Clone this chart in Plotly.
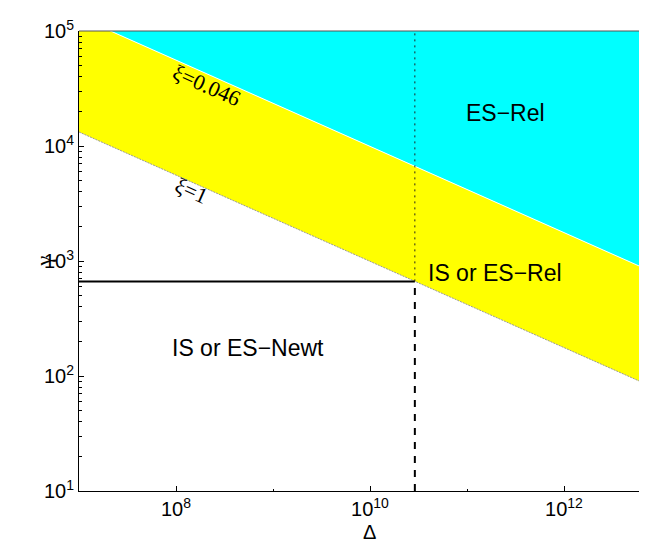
import plotly.graph_objects as go

# ---- data ----
delta_edges = [1e7, 1e13]            # Δ span of the boundary lines
gamma_xi1 = [1.324e4, 74.5]          # ξ = 1 boundary at the Δ edges
gamma_xi0046 = [1.324e5, 745.0]      # ξ = 0.046 boundary at the Δ edges
gamma_limits = [10, 1e5]
delta_crit = 2.9e10
gamma_crit = 665.0

x_tick_vals = [1e8, 1e10, 1e12]
x_tick_text = ["10<sup>8</sup>", "10<sup>10</sup>", "10<sup>12</sup>"]
x_minor_vals = [1e7, 1e9, 1e11, 1e13]
y_tick_vals = [1e1, 1e2, 1e3, 1e4, 1e5]
y_tick_text = ["10<sup>1</sup>", "10<sup>2</sup>", "10<sup>3</sup>", "10<sup>4</sup>", "10<sup>5</sup>"]

region_labels = ["ES\u2212Rel", "IS or ES\u2212Rel", "IS or ES\u2212Newt"]
region_pos = [(11.40, 4.287), (11.29, 2.896), (8.74, 2.24)]   # (log Δ, log γ)
xi_labels = ["\u03be=0.046", "\u03be=1"]
xi_pos = [(8.32, 4.53), (8.155, 3.617)]

y_minor = [m * 10 ** e for e in range(1, 5) for m in range(2, 10)]

fig = go.Figure()

# yellow band between ξ=1 and ξ=0.046
fig.add_trace(go.Scatter(
    x=[delta_edges[0], delta_edges[1], delta_edges[1], delta_edges[0]],
    y=[gamma_xi0046[0], gamma_xi0046[1], gamma_xi1[1], gamma_xi1[0]],
    fill="toself", fillcolor="#ffff00", line=dict(width=0), mode="lines",
    hoverinfo="skip", showlegend=False))
# cyan region above ξ=0.046
fig.add_trace(go.Scatter(
    x=[delta_edges[0], delta_edges[1], delta_edges[1], delta_edges[0]],
    y=[gamma_xi0046[0], gamma_xi0046[1], gamma_limits[1] * 10, gamma_limits[1] * 10],
    fill="toself", fillcolor="#00ffff", line=dict(width=0), mode="lines",
    hoverinfo="skip", showlegend=False))
# boundary lines
fig.add_trace(go.Scatter(x=delta_edges, y=gamma_xi0046, mode="lines",
                         line=dict(color="white", width=1), showlegend=False))
fig.add_trace(go.Scatter(x=delta_edges, y=gamma_xi1, mode="lines",
                         line=dict(color="#9a9a9a", width=1, dash="2px,1px"), showlegend=False))
# critical lines
fig.add_trace(go.Scatter(x=[delta_edges[0], delta_crit], y=[gamma_crit, gamma_crit], mode="lines",
                         line=dict(color="black", width=2), showlegend=False))
fig.add_trace(go.Scatter(x=[delta_crit, delta_crit], y=[gamma_limits[0], gamma_crit], mode="lines",
                         line=dict(color="black", width=2, dash="7px,7px"), showlegend=False))
fig.add_trace(go.Scatter(x=[delta_crit, delta_crit], y=[gamma_crit, gamma_limits[1]], mode="lines",
                         line=dict(color="#222222", width=1, dash="2px,4px"), showlegend=False))

for txt, (lx, ly) in zip(region_labels, region_pos):
    fig.add_annotation(x=lx, y=ly, text=txt, showarrow=False,
                       font=dict(family="Liberation Sans, Arial", size=23, color="black"))
for txt, (lx, ly) in zip(xi_labels, xi_pos):
    fig.add_annotation(x=lx, y=ly, text=txt, showarrow=False, textangle=24,
                       font=dict(family="Liberation Serif, Times New Roman", size=22, color="black"))

# axis titles
fig.add_annotation(xref="paper", yref="paper", x=(361.5 - 71) / 576, y=(548 - 537 - 65) / 460,
                   text="\u0394", showarrow=False,
                   font=dict(family="Liberation Sans, Arial", size=20, color="black"))
fig.add_annotation(xref="paper", yref="paper", x=(20 - 71) / 576, y=0.5,
                   text="\u03b3", showarrow=False, textangle=-90,
                   font=dict(family="Liberation Serif, Times New Roman", size=22, color="black"))

# top frame line (slightly grey as in the reference)
fig.add_shape(type="line", xref="paper", yref="paper", x0=0, x1=1, y0=1, y1=1,
              line=dict(color="#555555", width=1))

fig.update_xaxes(type="log", range=[7, 7 + 576 / 97], showline=True, linecolor="black", linewidth=1,
                 mirror=False, showgrid=False, zeroline=False,
                 tickmode="array", tickvals=x_tick_vals, ticktext=x_tick_text,
                 ticks="inside", ticklen=5, tickcolor="black",
                 minor=dict(tickmode="array", tickvals=x_minor_vals, ticks="inside", ticklen=2, tickcolor="black"),
                 tickfont=dict(family="Liberation Sans, Arial", size=20, color="black"))
fig.update_yaxes(type="log", range=[1, 5], showline=True, linecolor="black", linewidth=1,
                 mirror=False, showgrid=False, zeroline=False,
                 tickmode="array", tickvals=y_tick_vals, ticktext=y_tick_text,
                 ticks="inside", ticklen=5, tickcolor="black",
                 minor=dict(tickmode="array", tickvals=y_minor, ticks="inside", ticklen=3, tickcolor="black"),
                 tickfont=dict(family="Liberation Sans, Arial", size=20, color="black"))

fig.update_layout(width=647, height=548, margin=dict(l=71, r=0, t=23, b=65),
                  paper_bgcolor="white", plot_bgcolor="white")

fig.write_html("out.html")
